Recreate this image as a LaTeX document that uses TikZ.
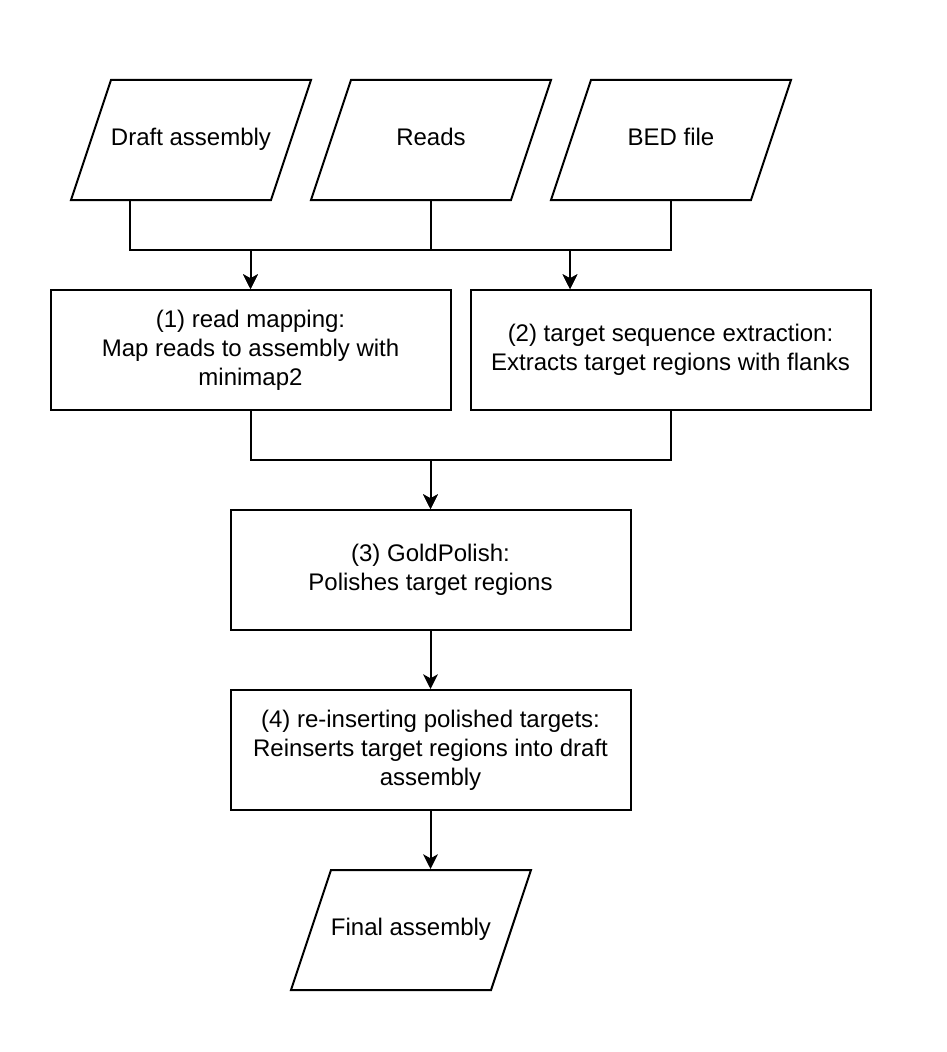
\documentclass[tikz,border=0pt]{standalone}
\usepackage{fontspec}
\setmainfont{Liberation Sans}
\usetikzlibrary{shapes.geometric,arrows.meta,calc}

\tikzset{every picture/.style={line width=1.5pt}}
\tikzset{
  procbox/.style={draw, rectangle, minimum width=300pt, minimum height=90pt, inner sep=0pt, align=center, font=\fontsize{18}{21.6}\selectfont},
  iobox/.style={draw, trapezium, trapezium left angle=71.57, trapezium right angle=108.43, trapezium stretches body=true, minimum width=180pt, inner xsep=0pt, inner ysep=34.2pt, align=center, font=\fontsize{18}{21.6}\selectfont, execute at begin node=\strut},
  flow/.style={-{Stealth[length=11pt,width=11pt,inset=3pt]}, line join=miter}
}

\begin{document}
\begin{tikzpicture}[x=0.75pt,y=0.75pt,yscale=-1,xscale=1]
\useasboundingbox (0,0) rectangle (946,1052);

%Parallelogram inputs
\node[iobox] (draft) at (191,140) {Draft assembly};
\node[iobox] (reads) at (431,140) {Reads};
\node[iobox] (bed) at (671,140) {BED file};

%Rectangles steps
\node[procbox] (map) at (250.5,350) {(1) read mapping:\\Map reads to assembly with\\minimap2};
\node[procbox] (extract) at (670.5,350) {(2) target sequence extraction:\\Extracts target regions with flanks};
\node[procbox] (polish) at (430.5,570) {(3) GoldPolish:\\Polishes target regions};
\node[procbox] (insert) at (430.5,750) {(4) re-inserting polished targets:\\Reinserts target regions into draft\\assembly};

%Parallelogram output
\node[iobox] (final) at (411,930) {Final assembly};

%Bus lines
\coordinate (busA) at (0,250);
\coordinate (busB) at (0,460);
\coordinate (draftout) at ($(draft.bottom left corner)!0.3!(draft.bottom right corner)$);
\coordinate (extractin) at ($(extract.north west)!0.25!(extract.north east)$);

%Straight Lines
\draw[flow] (draftout) -- (draftout |- busA) -| (map.north);
\draw[flow] (reads.south) -- (reads.south |- busA) -| (map.north);
\draw[flow] (reads.south) -- (reads.south |- busA) -| (extractin);
\draw[flow] (bed.south) -- (bed.south |- busA) -| (extractin);
%Straight Lines
\draw[flow] (map.south) -- (map.south |- busB) -| (polish.north);
\draw[flow] (extract.south) -- (extract.south |- busB) -| (polish.north);
%Straight Lines
\draw[flow] (polish.south) -- (insert.north);
\draw[flow] (insert.south) -- (insert.south |- final.north);

\end{tikzpicture}
\end{document}
